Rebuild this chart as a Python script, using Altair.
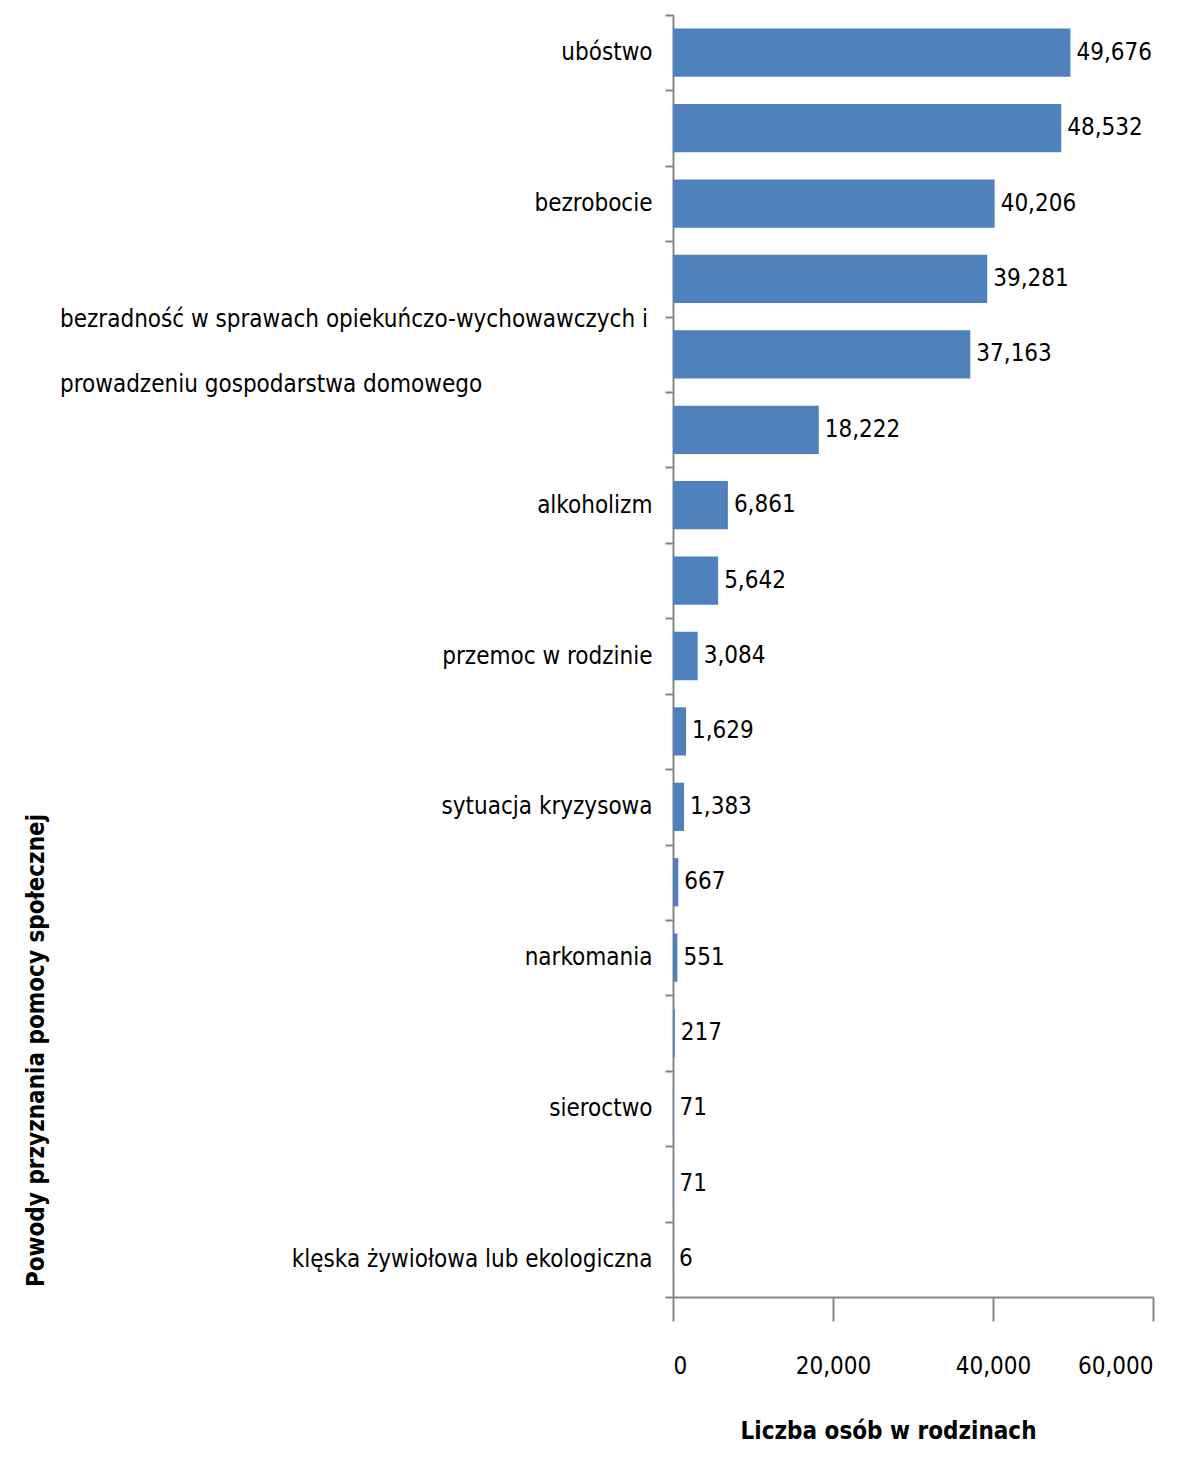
import json
import altair as alt
import pandas as pd

categories = [
    "ubóstwo",
    "niepełnosprawność",
    "bezrobocie",
    "długotrwała lub ciężka choroba",
    "bezradność w sprawach opiekuńczo-wychowawczych i prowadzeniu gospodarstwa domowego",
    "potrzeba ochrony macierzyństwa",
    "alkoholizm",
    "wielodzietność",
    "przemoc w rodzinie",
    "bezdomność",
    "sytuacja kryzysowa",
    "trudności w przystosowaniu do życia po zwolnieniu z zakładu karnego",
    "narkomania",
    "zdarzenie losowe",
    "sieroctwo",
    "brak umiejętności w przystosowaniu do życia młodzieży opuszczającej placówki",
    "klęska żywiołowa lub ekologiczna",
]
values = [49676, 48532, 40206, 39281, 37163, 18222, 6861, 5642, 3084, 1629, 1383, 667, 551, 217, 71, 71, 6]
shown_labels = ["ubóstwo", "bezrobocie", "alkoholizm", "przemoc w rodzinie",
                "sytuacja kryzysowa", "narkomania", "sieroctwo",
                "klęska żywiołowa lub ekologiczna"]
long_label = categories[4]
long_label_lines = ["bezradność w sprawach opiekuńczo-wychowawczych i",
                    "prowadzeniu gospodarstwa domowego"]
x_ticks = [0, 20000, 40000, 60000]

df = pd.DataFrame({"powod": categories, "liczba": values})
df_long = pd.DataFrame({"powod": [long_label], "txt": [long_label_lines]})

FONT = "'Liberation Sans Narrow', 'DejaVu Sans Condensed', 'Liberation Sans', sans-serif"
FS = 24
GRAY = "#868686"

label_expr = "indexof(" + json.dumps(shown_labels, ensure_ascii=False) + ", datum.value) >= 0 ? datum.value : ''"

y_enc = alt.Y(
    "powod:N",
    sort=categories,
    scale=alt.Scale(paddingInner=0, paddingOuter=0),
    axis=alt.Axis(
        title="Powody przyznania pomocy społecznej",
        titleFont=FONT, titleFontSize=24, titleFontWeight="bold", titleColor="black",
        titleAngle=-90, titleAlign="center", titleBaseline="middle",
        titleX=-637, titleY=1035,
        labelExpr=label_expr,
        labelFont=FONT, labelFontSize=FS, labelColor="black",
        labelPadding=13, labelLimit=700,
        tickBand="extent", tickSize=8, tickColor=GRAY, tickWidth=2,
        domainColor=GRAY, domainWidth=2, grid=False,
    ),
)

x_enc = alt.X(
    "liczba:Q",
    scale=alt.Scale(domain=[0, 60000], nice=False),
    axis=alt.Axis(
        values=x_ticks, format=",d",
        title="Liczba osób w rodzinach",
        titleFont=FONT, titleFontSize=24, titleFontWeight="bold", titleColor="black",
        titleX=215, titleY=122, titleBaseline="top",
        labelFont=FONT, labelFontSize=FS, labelColor="black", labelPadding=33,
        tickSize=24, tickColor=GRAY, tickWidth=2,
        domainColor=GRAY, domainWidth=2, grid=False,
    ),
)

bars = alt.Chart(df).mark_bar(color="#4F81BD", height={"band": 0.64}).encode(x=x_enc, y=y_enc)

labels = alt.Chart(df).mark_text(
    align="left", baseline="middle", dx=6, font=FONT, fontSize=FS, color="black"
).encode(
    x="liczba:Q",
    y=alt.Y("powod:N", sort=categories),
    text=alt.Text("liczba:Q", format=",d"),
)

long_text = alt.Chart(df_long).mark_text(
    align="left", baseline="middle", font=FONT, fontSize=FS, color="black",
    lineHeight=65, dy=-34
).encode(
    x=alt.value(-613),
    y=alt.Y("powod:N", sort=categories),
    text="txt",
)

chart = alt.layer(bars, labels, long_text).properties(
    width=480, height=1282,
    autosize=alt.AutoSizeParams(type="none"),
    padding={"left": 665, "top": 7, "right": 32, "bottom": 154},
).configure(background="white").configure_view(strokeWidth=0, stroke="transparent")

chart.save("out.html", embed_options={"renderer": "svg", "actions": False})
